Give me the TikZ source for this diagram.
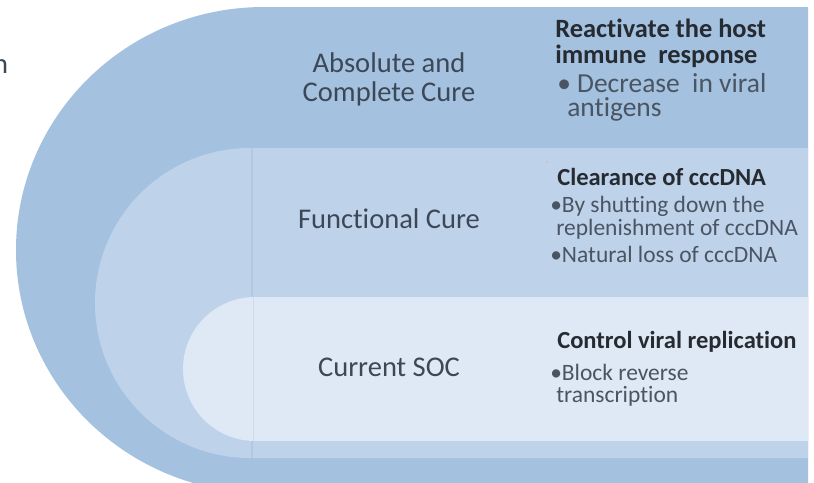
\documentclass[tikz,border=0pt]{standalone}
\usepackage{fontspec}
\setmainfont{Carlito}[Ligatures=NoCommon]
\definecolor{bandA}{HTML}{A4C1DF}
\definecolor{bandB}{HTML}{BED2EA}
\definecolor{bandC}{HTML}{DFE9F5}
\definecolor{seam}{HTML}{B3C8E2}
\definecolor{labelcol}{HTML}{3C4856}
\definecolor{headcol}{HTML}{262B31}
\definecolor{itemcol}{HTML}{4A5563}
\tikzset{
  level/.style={inner sep=0pt, outer sep=0pt, text=labelcol, font=\fontsize{21.4}{22}\selectfont},
  headA/.style={inner sep=0pt, anchor=base west, text=headcol, font=\bfseries\fontsize{19.8}{22}\selectfont},
  itemA/.style={inner sep=0pt, anchor=base west, text=itemcol, font=\fontsize{20.6}{22}\selectfont},
  headB/.style={inner sep=0pt, anchor=base west, text=headcol, font=\bfseries\fontsize{18.4}{20}\selectfont},
  itemB/.style={inner sep=0pt, anchor=base west, text=itemcol, font=\fontsize{17.6}{20}\selectfont},
}
\begin{document}
\begin{tikzpicture}[x=0.75pt, y=-0.75pt]
\useasboundingbox (0,0) rectangle (814,482);
\clip (0,0) rectangle (814,482);
\fill[white] (0,0) rectangle (814,482);

% outer band: half ellipse on the left, straight to the right edge
% (y runs downwards, so the arc goes from 270 to 90 through 180)
\fill[bandA] (808,7) -- (264,7) arc[start angle=270, end angle=90, x radius=248, y radius=243] -- (808,493) -- cycle;
% middle band
\fill[bandB] (808,148) -- (250,148) arc[start angle=270, end angle=90, radius=155] -- (808,458) -- cycle;
\draw[seam, line width=0.8] (252,148) -- (252,458);
% inner band
\fill[bandC] (808,297) -- (255,297) arc[start angle=270, end angle=90, radius=72] -- (808,441) -- cycle;
\draw[bandB!60!bandC, line width=0.6] (253,297) -- (253,441);

% fragment of a word at the left edge
\node[level, anchor=base east] (frag) at (8,73) {n};

% level labels
\node[level, anchor=base] (absA) at (389,72) {Absolute and};
\node[level, anchor=base] (absB) at (389,101) {Complete Cure};
\node[level, anchor=base] (func) at (389,228) {Functional Cure};
\node[level, anchor=base] (soc) at (389,376) {Current SOC};

% outer band notes
\node[headA] (hA1) at (555,37) {Reactivate the host};
\node[headA] (hA2) at (555,63) {immune\ \ response};
\node[itemA] (iA1) at (557,92) {•\ Decrease\ \ in viral};
\node[itemA] (iA2) at (567,116) {antigens};

% middle band notes
\fill[gray!45] (547,162) circle[radius=1.1];
\node[headB] (hB1) at (557,185) {Clearance of cccDNA};
\node[itemB] (iB1) at (550,212) {•By shutting down the};
\node[itemB] (iB2) at (556,235) {replenishment of cccDNA};
\node[itemB] (iB3) at (550,262) {•Natural loss of cccDNA};

% inner band notes
\node[headB] (hC1) at (557,348) {Control viral replication};
\node[itemB] (iC1) at (550,380) {•Block reverse};
\node[itemB] (iC2) at (556,402) {transcription};
\end{tikzpicture}
\end{document}
